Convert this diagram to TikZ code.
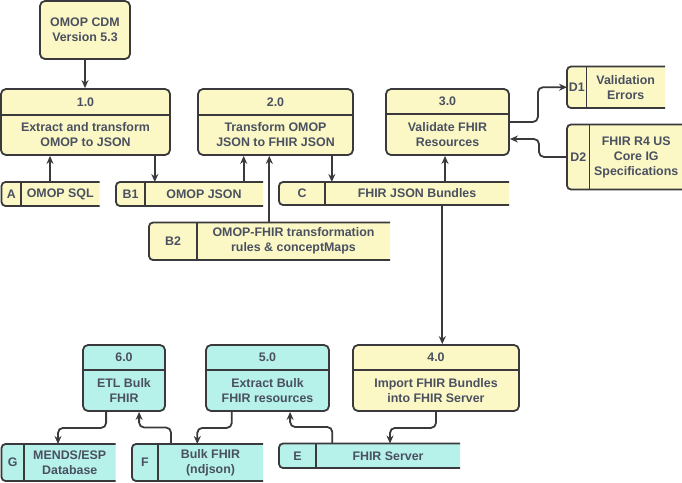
\documentclass[tikz,border=0pt]{standalone}
\usepackage{fontspec}
\setmainfont{Liberation Sans}
\usetikzlibrary{arrows.meta,calc}
\definecolor{yel}{HTML}{FBF8C6}
\definecolor{cya}{HTML}{B6F2EA}
\definecolor{linec}{HTML}{3A3A3C}
\definecolor{txtc}{HTML}{4A5060}
\tikzset{
  border/.style={draw=linec, line width=1.8pt},
  proc/.style={border, rounded corners=5pt, inner sep=0pt},
  txt/.style={text=txtc, font=\bfseries\fontsize{12.4}{15}\selectfont, align=center, inner sep=0pt},
  flow/.style={draw=linec, line width=1.8pt, rounded corners=5pt, -{Stealth[length=8pt,width=7pt]}},
}
% process box: name, x1, y1, x2, y2, ydiv, fill, number, text
\newcommand\procbox[9]{%
  \node[proc, fill=#7, minimum width={#4-#2}, minimum height={#5-#3}] (#1) at ({(#2+#4)/2},{(#3+#5)/2}) {};
  \draw[border] (#2,#6) -- (#4,#6);
  \node[txt] (#1n) at ({(#2+#4)/2},{(#3+#6)/2}) {#8};
  \node[txt] (#1t) at ({(#2+#4)/2},{(#6+#5)/2}) {#9};
}
% data store: name, x1, y1, x2, y2, xdiv, fill, label, text
\newcommand\dstore[9]{%
  \coordinate (#1-ne) at (#4,#3);
  \coordinate (#1-nw) at (#2,#3);
  \coordinate (#1-sw) at (#2,#5);
  \coordinate (#1-se) at (#4,#5);
  \fill[#7] [rounded corners=4pt] (#1-ne) -- (#1-nw) -- (#1-sw) [sharp corners] -- (#1-se) -- cycle;
  \draw[border, rounded corners=4pt] (#1-ne) -- (#1-nw) -- (#1-sw) -- (#1-se);
  \draw[border] (#6,#3) -- (#6,#5);
  \node[txt] (#1l) at ({(#2+#6)/2},{(#3+#5)/2}) {#8};
  \node[txt] (#1t) at ({(#6+#4)/2},{(#3+#5)/2}) {#9};
}
\begin{document}
\begin{tikzpicture}[x=1pt,y=-1pt]
\useasboundingbox (0,0) rectangle (682,482);

% OMOP CDM
\node[proc, fill=yel, minimum width=90pt, minimum height=58pt] (cdm) at (85,30) {};
\node[txt] (cdmt) at (85,30) {OMOP CDM\\Version 5.3};

% processes
\procbox{p1}{1}{89}{170}{155}{115}{yel}{1.0}{Extract and transform\\OMOP to JSON}
\procbox{p2}{198}{89}{353}{155}{115}{yel}{2.0}{Transform OMOP\\JSON to FHIR JSON}
\procbox{p3}{386}{89}{509}{155}{114}{yel}{3.0}{Validate FHIR\\Resources}
\procbox{p4}{353}{345}{519}{411}{370}{yel}{4.0}{Import FHIR Bundles\\into FHIR Server}
\procbox{p5}{206}{345}{329}{411}{370}{cya}{5.0}{Extract Bulk\\FHIR resources}
\procbox{p6}{83}{345}{165}{411}{370}{cya}{6.0}{ETL Bulk\\FHIR}

% data stores
\dstore{A}{1.5}{182}{99.5}{206}{21}{yel}{A}{OMOP SQL}
\dstore{B1}{116}{182}{263}{206}{145}{yel}{B1}{OMOP JSON}
\dstore{C}{279}{182}{509}{205}{325}{yel}{C}{FHIR JSON Bundles}
\dstore{B2}{149}{222.5}{390}{260}{197}{yel}{B2}{OMOP-FHIR transformation\\rules \& conceptMaps}
\dstore{D1}{567}{66.5}{665}{108}{586.5}{yel}{D1}{Validation\\Errors}
\dstore{D2}{567}{124.5}{683}{189.5}{589.5}{yel}{D2}{FHIR R4 US\\Core IG\\Specifications}
\dstore{G}{1.5}{444}{115.5}{481}{24}{cya}{G}{MENDS/ESP\\Database}
\dstore{F}{132}{444}{263}{481}{158}{cya}{F}{Bulk FHIR\\(ndjson)}
\dstore{E}{279}{443.5}{460}{468}{316}{cya}{E}{FHIR Server}

% connectors
\draw[flow] (cdm.south) -- (cdm.south |- p1.north);
\draw[flow] ([xshift=48.5pt]A-nw) -- ([xshift=48.5pt]A-nw |- p1.south);
\draw[flow] ([xshift=154.7pt]p1.south west) -- ([xshift=154.7pt]p1.south west |- B1-nw);
\draw[flow] ([xshift=127.7pt]B1-nw) -- ([xshift=127.7pt]B1-nw |- p2.south);
\draw[flow] ([xshift=120.3pt]B2-nw) -- ([xshift=120.3pt]B2-nw |- p2.south);
\draw[flow, line width=2.3pt] ([xshift=134.7pt]p2.south west) -- ([xshift=134.7pt]p2.south west |- C-nw);
\draw[flow] ([xshift=166pt]C-nw) -- ([xshift=166pt]C-nw |- p3.south);
\draw[flow] ([xshift=163.3pt]C-sw) -- ([xshift=163.3pt]C-sw |- p4.north);
\draw[flow] (p3.east) -- ++(28,0) |- ($(D1-nw)!0.5!(D1-sw)$);
\draw[flow] ($(D2-nw)!0.5!(D2-sw)$) -- ++(-28,0) |- ([yshift=-17pt]p3.east);
\draw[flow] (p4.south) -- ++(0,16) -| ([xshift=111pt]E-nw);
\draw[flow] ([xshift=53.3pt]E-nw) -- ++(0,-16.5) -| ([xshift=85pt]p5.south west);
\draw[flow] ([xshift=26.7pt]p5.south west) -- ++(0,16) -| ([xshift=65.3pt]F-nw);
\draw[flow] ([xshift=39pt]F-nw) -- ++(0,-16.5) -| ([xshift=57pt]p6.south west);
\draw[flow] ([xshift=24pt]p6.south west) -- ++(0,16) -| ([xshift=56.5pt]G-nw);
\end{tikzpicture}
\end{document}
